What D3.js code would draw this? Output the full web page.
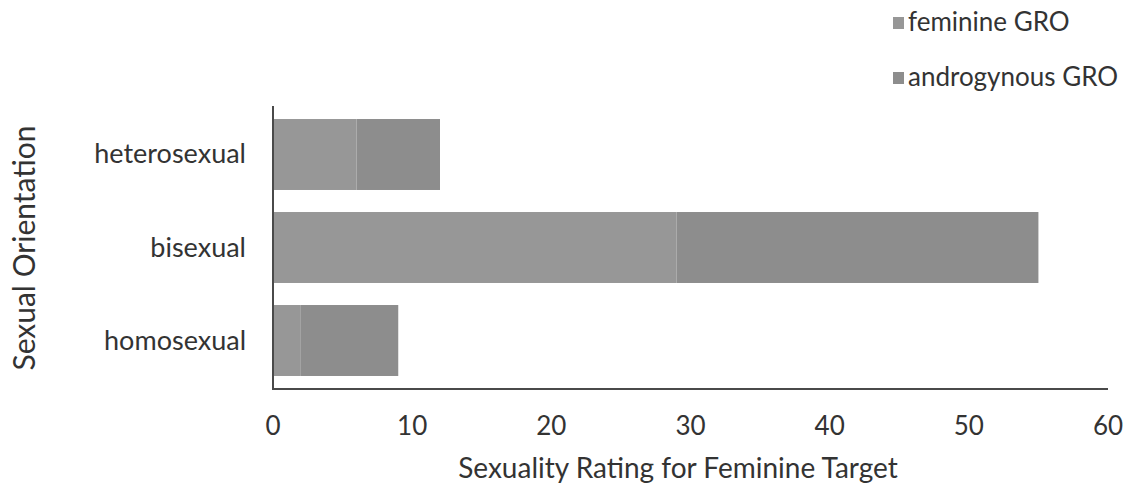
<!DOCTYPE html>
<html><head><meta charset="utf-8">
<script src="https://cdn.jsdelivr.net/npm/d3@7/dist/d3.min.js"></script>
<style>body{margin:0;background:#fff}svg text{font-family:Lato,"Open Sans",sans-serif;fill:#333}</style>
</head><body>
<svg id="c" width="1140" height="491"></svg>
<script>
const categories = ["heterosexual","bisexual","homosexual"];
const seriesNames = ["feminine GRO","androgynous GRO"];
const feminine = [6, 29, 2];
const androgynous = [6, 26, 7];
const xTicks = [0,10,20,30,40,50,60];
const colors = ["#979797","#8d8d8d"];

(function(){
const svg = d3.select("#c");
const mL = 273, mR = 1108, mT = 106, mB = 389;
const x = d3.scaleLinear().domain([0,60]).range([mL,mR]);
const y = d3.scaleBand().domain(categories).range([mT,mB]).paddingInner(0.237).paddingOuter(0.14);

const stackData = categories.map((c,i)=>({cat:c, f:feminine[i], a:androgynous[i]}));
const stack = d3.stack().keys(["f","a"])(stackData);

stack.forEach((s,si)=>{
  svg.append("g").selectAll("rect").data(s).join("rect")
    .attr("x", d=>x(d[0])).attr("width", d=>x(d[1])-x(d[0]))
    .attr("y", d=>y(d.data.cat)).attr("height", y.bandwidth())
    .attr("fill", colors[si]);
});

svg.append("line").attr("x1",mL).attr("x2",mL).attr("y1",mT).attr("y2",mB).attr("stroke","#4a4a4a").attr("stroke-width",2);
svg.append("line").attr("x1",mL-1).attr("x2",mR).attr("y1",mB).attr("y2",mB).attr("stroke","#4a4a4a").attr("stroke-width",2);

svg.append("g").selectAll("text").data(xTicks).join("text")
  .attr("x", d=>x(d)).attr("y", 435).attr("text-anchor","middle")
  .style("font-size","26px").text(d=>d);

svg.append("g").selectAll("text").data(categories).join("text")
  .attr("x", 246).attr("y", d=>y(d)+y.bandwidth()/2+9).attr("text-anchor","end")
  .style("font-size","27px").text(d=>d);

svg.append("text").attr("x", 678).attr("y", 478).attr("text-anchor","middle")
  .style("font-size","28px").text("Sexuality Rating for Feminine Target");

svg.append("text").attr("transform","translate(35,248) rotate(-90)").attr("text-anchor","middle")
  .style("font-size","30px").text("Sexual Orientation");

const lg = svg.append("g");
seriesNames.forEach((n,i)=>{
  const yy = 17 + i*55;
  lg.append("rect").attr("x",893).attr("y",yy).attr("width",11).attr("height",12).attr("fill",colors[i]);
  lg.append("text").attr("x",908).attr("y",yy+14).style("font-size","26px").text(n);
});
})();
</script>
</body></html>
